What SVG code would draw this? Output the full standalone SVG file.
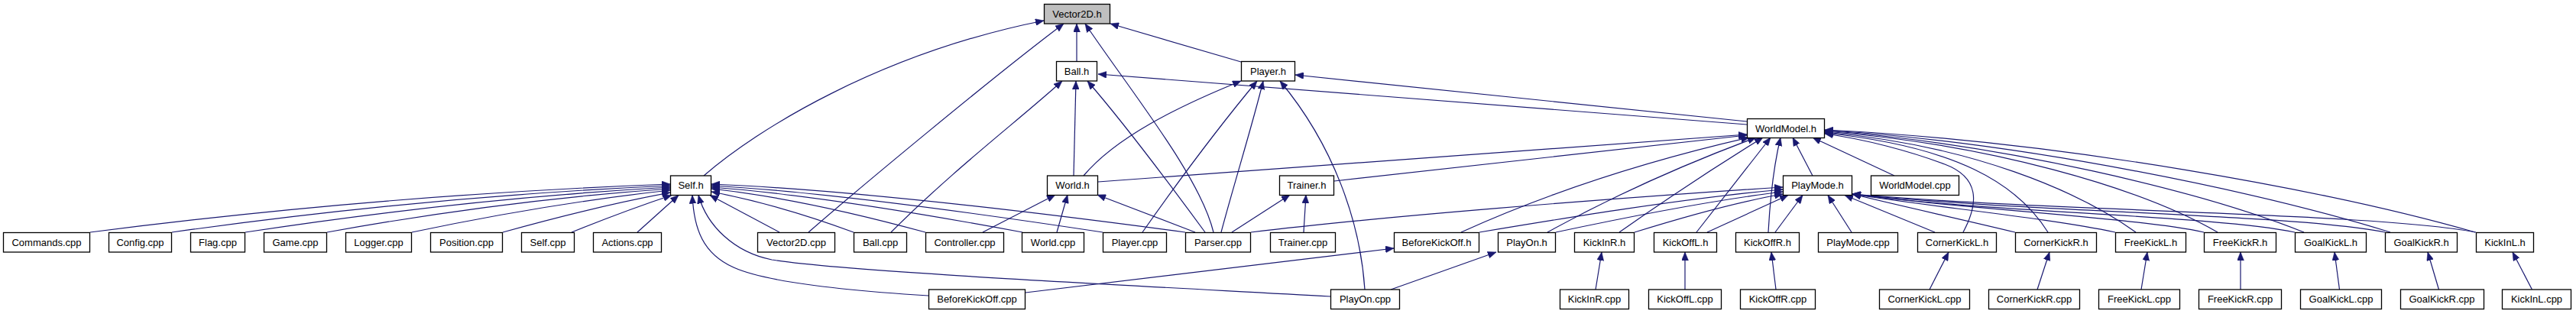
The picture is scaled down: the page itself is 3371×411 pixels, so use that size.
<svg xmlns="http://www.w3.org/2000/svg" width="3371" height="411" viewBox="0 0 3371 411">
<style>
.n rect{fill:#fff;stroke:#000;stroke-width:1.3}
.n text{font-family:"Liberation Sans",Arial,sans-serif;font-size:13px;fill:#000;text-anchor:middle}
#edges path{fill:none;stroke:#191970;stroke-width:1.2;marker-end:url(#a)}
</style>
<defs>
<marker id="a" markerUnits="userSpaceOnUse" markerWidth="11" markerHeight="9" refX="11" refY="4.5" orient="auto" viewBox="0 0 11 9"><path d="M0,0 L11,4.5 L0,9 z" fill="#191970" stroke="#191970" stroke-width="0.5"/></marker>
</defs>
<rect width="3371" height="411" fill="#fff"/>
<g id="edges">
<path d="M921,230 C990,170 1150,70 1366,27"/>
<path d="M1058,304 C1120,250 1300,100 1392,31"/>
<path d="M1409,80.5 L1409,31"/>
<path d="M1588,304 C1570,230 1480,120 1420,31"/>
<path d="M1624,81 L1453,31"/>
<path d="M2286,163 L1437,97"/>
<path d="M1166,304 C1250,220 1330,160 1390,106"/>
<path d="M1405,230 L1408,106"/>
<path d="M1577,304 C1530,240 1470,160 1423,106"/>
<path d="M2286,159 L1695,98"/>
<path d="M1418,230 C1460,180 1540,140 1624,106"/>
<path d="M1495,304 C1540,240 1600,160 1645,106"/>
<path d="M1598,304 C1615,240 1640,160 1653,106"/>
<path d="M1786,379 C1780,290 1745,190 1675,106"/>
<path d="M1286,304 L1381,255"/>
<path d="M1383,304 L1397,255"/>
<path d="M1564,304 L1436,255"/>
<path d="M1612,304 L1688,255"/>
<path d="M1706,304 L1709,255"/>
<path d="M1437,238 L2286,176"/>
<path d="M1746,237 L2286,177"/>
<path d="M1912,304 Q2080,228 2289,180"/>
<path d="M2025,304 Q2150,235 2298,180"/>
<path d="M2119,304 Q2210,240 2307,180"/>
<path d="M2220,304 Q2270,240 2317,180"/>
<path d="M2314,304 Q2318,230 2330,180"/>
<path d="M2372,230 L2346,180"/>
<path d="M2479,230 L2372,180"/>
<path d="M2569,304 C2590,265 2590,232 2545,215 C2500,198 2440,182 2388,175"/>
<path d="M2680,304 C2640,240 2560,192 2388,174"/>
<path d="M2795,304 C2720,250 2580,190 2388,173"/>
<path d="M2902,304 C2800,245 2600,188 2388,172"/>
<path d="M3015,304 C2880,250 2620,188 2388,171"/>
<path d="M3128,304 C2960,252 2650,186 2388,170.5"/>
<path d="M3239,304 C3050,250 2700,185 2388,170"/>
<path d="M1637,304 C1800,284 2100,260 2333,245"/>
<path d="M1936,304 C2050,285 2200,260 2333,248"/>
<path d="M2036,304 C2130,284 2240,262 2333,251"/>
<path d="M2139,304 C2200,285 2270,265 2333,254"/>
<path d="M2234,304 L2340,255.5"/>
<path d="M2323,304 L2359,255.5"/>
<path d="M2423,304 L2392,255.5"/>
<path d="M2532,304 L2414,255.5"/>
<path d="M2637,304 C2580,290 2480,268 2424,254"/>
<path d="M2768,304 C2680,285 2520,270 2424,254"/>
<path d="M2884,304 C2800,285 2550,272 2424,254"/>
<path d="M3003,304 C2900,282 2600,278 2424,254"/>
<path d="M3121,304 C3000,280 2650,278 2424,254"/>
<path d="M3240,304 C3100,278 2700,278 2424,254"/>
<path d="M118,304 Q500,255 877,241"/>
<path d="M225,304 Q560,257 877,243"/>
<path d="M321,304 Q610,260 877,245"/>
<path d="M428,304 Q660,262 877,247"/>
<path d="M539,304 Q720,266 877,249"/>
<path d="M658,304 Q780,270 877,252"/>
<path d="M748,304 Q820,275 879,255.5"/>
<path d="M834,304 L888,255.5"/>
<path d="M1551,304 Q1150,250 931,241"/>
<path d="M1443,304 Q1100,252 931,243"/>
<path d="M1338,304 Q1080,256 931,245"/>
<path d="M1211,304 Q1050,260 931,247"/>
<path d="M1117,304 Q1020,268 931,251"/>
<path d="M1020,304 L929,255.5"/>
<path d="M1215,387 C1100,380 1000,368 960,350 C920,332 908,300 906,255.5"/>
<path d="M1741,388 C1450,372 1100,355 1010,340 C960,330 925,295 914,255.5"/>
<path d="M1342,383 L1824,325"/>
<path d="M1820,379 L1958,330"/>
<path d="M2088,379 L2096,330"/>
<path d="M2205,379 L2205,330"/>
<path d="M2324,379 L2318,330"/>
<path d="M2525,379 L2550,330"/>
<path d="M2666,379 L2682,330"/>
<path d="M2802,379 L2810,330"/>
<path d="M2932,379 L2932,330"/>
<path d="M3061.5,379 L3055,330"/>
<path d="M3191.5,379 L3177,330"/>
<path d="M3313.5,379 L3288,330"/>
</g>
<g id="n_vector2d_h" class="n"><rect x="1366.5" y="5.5" width="86" height="25.5" style="fill:#bfbfbf"/><text x="1409.5" y="22.5">Vector2D.h</text></g>
<g id="n_ball_h" class="n"><rect x="1382.5" y="80.5" width="53" height="25.5"/><text x="1409" y="97.5">Ball.h</text></g>
<g id="n_player_h" class="n"><rect x="1624.5" y="80.5" width="70" height="25.5"/><text x="1659.5" y="97.5">Player.h</text></g>
<g id="n_worldmodel_h" class="n"><rect x="2286.5" y="155.5" width="101" height="25"/><text x="2337" y="172.5">WorldModel.h</text></g>
<g id="n_self_h" class="n"><rect x="877.5" y="230" width="53" height="25.5"/><text x="904" y="247">Self.h</text></g>
<g id="n_world_h" class="n"><rect x="1370.5" y="230" width="66" height="25.5"/><text x="1403.5" y="247">World.h</text></g>
<g id="n_trainer_h" class="n"><rect x="1674.5" y="230" width="71" height="25.5"/><text x="1710" y="247">Trainer.h</text></g>
<g id="n_playmode_h" class="n"><rect x="2333.5" y="230" width="90" height="25.5"/><text x="2378.5" y="247">PlayMode.h</text></g>
<g id="n_worldmodel_cpp" class="n"><rect x="2448.5" y="230" width="115" height="25.5"/><text x="2506" y="247">WorldModel.cpp</text></g>
<g id="n_commands_cpp" class="n"><rect x="4.5" y="304.5" width="113" height="25.5"/><text x="61" y="321.5">Commands.cpp</text></g>
<g id="n_config_cpp" class="n"><rect x="142.5" y="304.5" width="82" height="25.5"/><text x="183.5" y="321.5">Config.cpp</text></g>
<g id="n_flag_cpp" class="n"><rect x="249.5" y="304.5" width="71" height="25.5"/><text x="285" y="321.5">Flag.cpp</text></g>
<g id="n_game_cpp" class="n"><rect x="345.5" y="304.5" width="82" height="25.5"/><text x="386.5" y="321.5">Game.cpp</text></g>
<g id="n_logger_cpp" class="n"><rect x="452.5" y="304.5" width="86" height="25.5"/><text x="495.5" y="321.5">Logger.cpp</text></g>
<g id="n_position_cpp" class="n"><rect x="563.5" y="304.5" width="94" height="25.5"/><text x="610.5" y="321.5">Position.cpp</text></g>
<g id="n_self_cpp" class="n"><rect x="682.5" y="304.5" width="69" height="25.5"/><text x="717" y="321.5">Self.cpp</text></g>
<g id="n_actions_cpp" class="n"><rect x="776.5" y="304.5" width="89" height="25.5"/><text x="821" y="321.5">Actions.cpp</text></g>
<g id="n_vector2d_cpp" class="n"><rect x="991.5" y="304.5" width="101" height="25.5"/><text x="1042" y="321.5">Vector2D.cpp</text></g>
<g id="n_ball_cpp" class="n"><rect x="1117.5" y="304.5" width="69" height="25.5"/><text x="1152" y="321.5">Ball.cpp</text></g>
<g id="n_controller_cpp" class="n"><rect x="1211.5" y="304.5" width="102" height="25.5"/><text x="1262.5" y="321.5">Controller.cpp</text></g>
<g id="n_world_cpp" class="n"><rect x="1337.5" y="304.5" width="81" height="25.5"/><text x="1378" y="321.5">World.cpp</text></g>
<g id="n_player_cpp" class="n"><rect x="1443.5" y="304.5" width="83" height="25.5"/><text x="1485" y="321.5">Player.cpp</text></g>
<g id="n_parser_cpp" class="n"><rect x="1551.5" y="304.5" width="85" height="25.5"/><text x="1594" y="321.5">Parser.cpp</text></g>
<g id="n_trainer_cpp" class="n"><rect x="1662.5" y="304.5" width="85" height="25.5"/><text x="1705" y="321.5">Trainer.cpp</text></g>
<g id="n_beforekickoff_h" class="n"><rect x="1824.5" y="304.5" width="111" height="25.5"/><text x="1880" y="321.5">BeforeKickOff.h</text></g>
<g id="n_playon_h" class="n"><rect x="1960.5" y="304.5" width="75" height="25.5"/><text x="1998" y="321.5">PlayOn.h</text></g>
<g id="n_kickinr_h" class="n"><rect x="2060.5" y="304.5" width="78" height="25.5"/><text x="2099.5" y="321.5">KickInR.h</text></g>
<g id="n_kickoffl_h" class="n"><rect x="2164.5" y="304.5" width="82" height="25.5"/><text x="2205.5" y="321.5">KickOffL.h</text></g>
<g id="n_kickoffr_h" class="n"><rect x="2271.5" y="304.5" width="83" height="25.5"/><text x="2313" y="321.5">KickOffR.h</text></g>
<g id="n_playmode_cpp" class="n"><rect x="2379.5" y="304.5" width="104" height="25.5"/><text x="2431.5" y="321.5">PlayMode.cpp</text></g>
<g id="n_cornerkickl_h" class="n"><rect x="2509.5" y="304.5" width="103" height="25.5"/><text x="2561" y="321.5">CornerKickL.h</text></g>
<g id="n_cornerkickr_h" class="n"><rect x="2637.5" y="304.5" width="106" height="25.5"/><text x="2690.5" y="321.5">CornerKickR.h</text></g>
<g id="n_freekickl_h" class="n"><rect x="2768.5" y="304.5" width="92" height="25.5"/><text x="2814.5" y="321.5">FreeKickL.h</text></g>
<g id="n_freekickr_h" class="n"><rect x="2884.5" y="304.5" width="94" height="25.5"/><text x="2931.5" y="321.5">FreeKickR.h</text></g>
<g id="n_goalkickl_h" class="n"><rect x="3003.5" y="304.5" width="93" height="25.5"/><text x="3050" y="321.5">GoalKickL.h</text></g>
<g id="n_goalkickr_h" class="n"><rect x="3121.5" y="304.5" width="94" height="25.5"/><text x="3168.5" y="321.5">GoalKickR.h</text></g>
<g id="n_kickinl_h" class="n"><rect x="3240.5" y="304.5" width="75" height="25.5"/><text x="3278" y="321.5">KickInL.h</text></g>
<g id="n_beforekickoff_cpp" class="n"><rect x="1215.5" y="379" width="126" height="25.5"/><text x="1278.5" y="396">BeforeKickOff.cpp</text></g>
<g id="n_playon_cpp" class="n"><rect x="1741.5" y="379" width="90" height="25.5"/><text x="1786.5" y="396">PlayOn.cpp</text></g>
<g id="n_kickinr_cpp" class="n"><rect x="2041.5" y="379" width="90" height="25.5"/><text x="2086.5" y="396">KickInR.cpp</text></g>
<g id="n_kickoffl_cpp" class="n"><rect x="2157.5" y="379" width="95" height="25.5"/><text x="2205" y="396">KickOffL.cpp</text></g>
<g id="n_kickoffr_cpp" class="n"><rect x="2277.5" y="379" width="98" height="25.5"/><text x="2326.5" y="396">KickOffR.cpp</text></g>
<g id="n_cornerkickl_cpp" class="n"><rect x="2459.5" y="379" width="118" height="25.5"/><text x="2518.5" y="396">CornerKickL.cpp</text></g>
<g id="n_cornerkickr_cpp" class="n"><rect x="2602.5" y="379" width="119" height="25.5"/><text x="2662" y="396">CornerKickR.cpp</text></g>
<g id="n_freekickl_cpp" class="n"><rect x="2746.5" y="379" width="106" height="25.5"/><text x="2799.5" y="396">FreeKickL.cpp</text></g>
<g id="n_freekickr_cpp" class="n"><rect x="2877.5" y="379" width="108" height="25.5"/><text x="2931.5" y="396">FreeKickR.cpp</text></g>
<g id="n_goalkickl_cpp" class="n"><rect x="3010.5" y="379" width="106" height="25.5"/><text x="3063.5" y="396">GoalKickL.cpp</text></g>
<g id="n_goalkickr_cpp" class="n"><rect x="3141.5" y="379" width="109" height="25.5"/><text x="3195.5" y="396">GoalKickR.cpp</text></g>
<g id="n_kickinl_cpp" class="n"><rect x="3274.5" y="379" width="90" height="25.5"/><text x="3319.5" y="396">KickInL.cpp</text></g>
</svg>
